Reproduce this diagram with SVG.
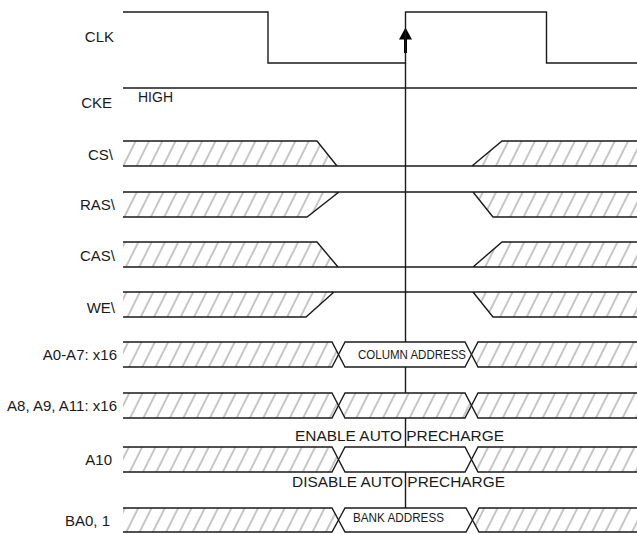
<svg xmlns="http://www.w3.org/2000/svg" width="637" height="534" viewBox="0 0 637 534">
<style>
  .lbl { font-family: "Liberation Sans", Arial, sans-serif; font-size: 15px; fill: #1a1a1a; }
  .lbl-end { text-anchor: end; }
  .small { font-family: "Liberation Sans", Arial, sans-serif; font-size: 12px; fill: #1a1a1a; }
  .edge { fill: none; stroke: #1a1a1a; stroke-width: 1.4; stroke-linejoin: miter; }
  .hatch { fill: url(#hatch); stroke: none; }
  .blank { fill: #ffffff; stroke: #1a1a1a; stroke-width: 1.4; }
  .hbox { fill: url(#hatch); stroke: #1a1a1a; stroke-width: 1.4; }
</style>
<defs>
  <pattern id="hatchBase" patternUnits="userSpaceOnUse" width="11.9" height="10" patternTransform="rotate(26.6)">
    <rect width="11.9" height="10" fill="#ffffff"/>
    <line x1="6" y1="-1" x2="6" y2="11" stroke="#a8a8a8" stroke-width="1.3"/>
  </pattern>
  <pattern id="hatch" href="#hatchBase"/>
  <marker id="ah" markerUnits="userSpaceOnUse" markerWidth="14" markerHeight="14" viewBox="0 0 14 14" refX="0.5" refY="7" orient="auto">
    <path d="M0,0.5 L12,7 L0,13.5 z" fill="#000"/>
  </marker>
</defs>
<rect width="637" height="534" fill="#ffffff"/>

<!-- connectors: reference line and clock-edge arrow -->
<g id="connectors">
  <line x1="405.5" y1="63" x2="405.5" y2="508" stroke="#1a1a1a" stroke-width="1.4"/>
  <line x1="405.5" y1="53" x2="405.5" y2="39" stroke="#000" stroke-width="3" marker-end="url(#ah)"/>
</g>

<g id="clk">
  <text class="lbl lbl-end" x="114" y="41.5">CLK</text>
  <path class="edge" d="M123,12 H268 V63 H405.5 V12 H546.5 V63 H637"/>
</g>

<g id="cke">
  <text class="lbl lbl-end" x="112" y="108">CKE</text>
  <line class="edge" x1="123" y1="88" x2="637" y2="88"/>
  <text class="lbl" x="138" y="101.5" textLength="35" lengthAdjust="spacingAndGlyphs">HIGH</text>
</g>

<g id="cs">
  <text class="lbl lbl-end" x="113" y="159.5">CS\</text>
  <polygon class="hatch" points="123,141 317,141 337,166 123,166"/>
  <polygon class="hatch" points="472,166 502,141 637,141 637,166"/>
  <path class="edge" d="M123,141 H317 L337,166 M123,166 H637 M472,166 L502,141 H637"/>
</g>

<g id="ras">
  <text class="lbl lbl-end" x="115" y="210">RAS\</text>
  <polygon class="hatch" points="123,192 339,192 307,217 123,217"/>
  <polygon class="hatch" points="473,192 637,192 637,217 493,217"/>
  <path class="edge" d="M123,192 H637 M123,217 H307 L339,192 M473,192 L493,217 H637"/>
</g>

<g id="cas">
  <text class="lbl lbl-end" x="115" y="261">CAS\</text>
  <polygon class="hatch" points="123,242 317,242 338,267 123,267"/>
  <polygon class="hatch" points="473,267 502,242 637,242 637,267"/>
  <path class="edge" d="M123,242 H317 L338,267 M123,267 H637 M473,267 L502,242 H637"/>
</g>

<g id="we">
  <text class="lbl lbl-end" x="115" y="312.5">WE\</text>
  <polygon class="hatch" points="123,292 334,292 306,317 123,317"/>
  <polygon class="hatch" points="473,292 637,292 637,317 493,317"/>
  <path class="edge" d="M123,292 H637 M123,317 H306 L334,292 M473,292 L493,317 H637"/>
</g>

<g id="a0-a7">
  <text class="lbl lbl-end" x="117" y="359.5">A0-A7: x16</text>
  <polygon class="hatch" points="123,342 332,342 338.5,354.5 332,367 123,367"/>
  <path class="edge" d="M123,342 H332 L338.5,354.5 L332,367 H123"/>
  <polygon class="blank" points="338.5,354.5 345,342 465,342 471.5,354.5 465,367 345,367"/>
  <polygon class="hatch" points="471.5,354.5 478,342 637,342 637,367 478,367"/>
  <path class="edge" d="M637,342 H478 L471.5,354.5 L478,367 H637"/>
  <text class="small" x="358" y="359" textLength="108" lengthAdjust="spacingAndGlyphs">COLUMN ADDRESS</text>
</g>

<g id="a8-a9-a11">
  <text class="lbl lbl-end" x="117" y="411" textLength="110" lengthAdjust="spacingAndGlyphs">A8, A9, A11: x16</text>
  <polygon class="hatch" points="123,393 332,393 338.5,405.5 332,418 123,418"/>
  <path class="edge" d="M123,393 H332 L338.5,405.5 L332,418 H123"/>
  <polygon class="hbox" points="338.5,405.5 345,393 465,393 471.5,405.5 465,418 345,418"/>
  <polygon class="hatch" points="471.5,405.5 478,393 637,393 637,418 478,418"/>
  <path class="edge" d="M637,393 H478 L471.5,405.5 L478,418 H637"/>
</g>

<g id="enable-label">
  <text class="lbl" x="295" y="441" textLength="209" lengthAdjust="spacingAndGlyphs">ENABLE AUTO PRECHARGE</text>
</g>

<g id="a10">
  <text class="lbl lbl-end" x="112" y="465">A10</text>
  <polygon class="hatch" points="123,447 332,447 338.5,459.5 332,472 123,472"/>
  <path class="edge" d="M123,447 H332 L338.5,459.5 L332,472 H123"/>
  <polygon class="blank" points="338.5,459.5 345,447 465,447 471.5,459.5 465,472 345,472"/>
  <polygon class="hatch" points="471.5,459.5 478,447 637,447 637,472 478,472"/>
  <path class="edge" d="M637,447 H478 L471.5,459.5 L478,472 H637"/>
</g>

<g id="disable-label">
  <text class="lbl" x="292" y="487" textLength="213" lengthAdjust="spacingAndGlyphs">DISABLE AUTO PRECHARGE</text>
</g>

<g id="ba0-1">
  <text class="lbl lbl-end" x="110" y="526">BA0, 1</text>
  <polygon class="hatch" points="123,508 332,508 338.5,520 332,532 123,532"/>
  <path class="edge" d="M123,508 H332 L338.5,520 L332,532 H123"/>
  <polygon class="blank" points="338.5,520 345,508 466,508 472.5,520 466,532 345,532"/>
  <polygon class="hatch" points="472.5,520 479,508 637,508 637,532 479,532"/>
  <path class="edge" d="M637,508 H479 L472.5,520 L479,532 H637"/>
  <text class="small" x="353" y="521.5" textLength="91" lengthAdjust="spacingAndGlyphs">BANK ADDRESS</text>
</g>
</svg>
